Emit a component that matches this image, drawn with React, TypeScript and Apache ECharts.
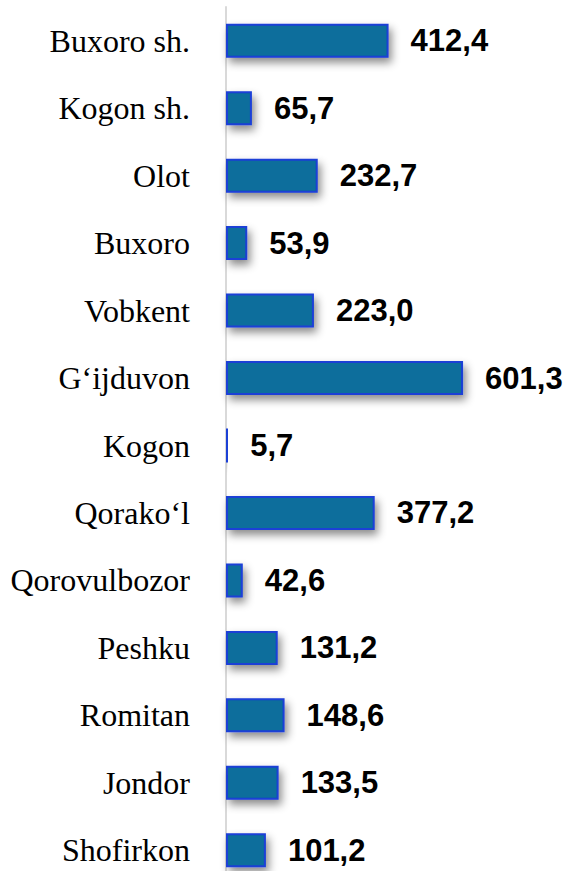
import React, { useEffect, useRef } from "react";
import * as echarts from "echarts";

const categories = [
  "Buxoro sh.",
  "Kogon sh.",
  "Olot",
  "Buxoro",
  "Vobkent",
  "G‘ijduvon",
  "Kogon",
  "Qorako‘l",
  "Qorovulbozor",
  "Peshku",
  "Romitan",
  "Jondor",
  "Shofirkon",
];

const values = [412.4, 65.7, 232.7, 53.9, 223.0, 601.3, 5.7, 377.2, 42.6, 131.2, 148.6, 133.5, 101.2];

export default function App() {
  const ref = useRef<HTMLDivElement>(null);
  useEffect(() => {
    if (!ref.current) return;
    const chart = echarts.init(ref.current, null, { renderer: "svg" });
    chart.setOption({
      animation: false,
      grid: { left: 226, top: 7, width: 315.4, height: 877 },
      xAxis: {
        type: "value",
        min: 0,
        max: 800,
        show: false,
      },
      yAxis: {
        type: "category",
        data: categories,
        inverse: true,
        axisLine: { show: true, lineStyle: { color: "#d9d9d9", width: 2 } },
        axisTick: { show: false },
        axisLabel: {
          color: "#000",
          fontFamily: "'Liberation Serif', 'Times New Roman', serif",
          fontSize: 32,
          margin: 36,
        },
      },
      series: [
        {
          type: "bar",
          data: values,
          barWidth: 34,
          itemStyle: {
            color: "#0a6e9c",
            borderColor: "#1a3fd6",
            borderWidth: 2,
            shadowColor: "rgba(0,0,0,0.45)",
            shadowBlur: 8,
            shadowOffsetX: 3,
            shadowOffsetY: 5,
          },
          label: {
            show: true,
            position: "right",
            distance: 22,
            color: "#000",
            fontWeight: "bold",
            fontFamily: "'Liberation Sans', Arial, sans-serif",
            fontSize: 31,
            formatter: (p: any) => Number(p.value).toFixed(1).replace(".", ","),
          },
        },
      ],
    });
    return () => chart.dispose();
  }, []);
  return (
    <div style={{ position: "fixed", left: 0, top: 0, width: 569, height: 871, overflow: "hidden", background: "#fff" }}>
      <div ref={ref} style={{ width: 569, height: 900 }} />
    </div>
  );
}
